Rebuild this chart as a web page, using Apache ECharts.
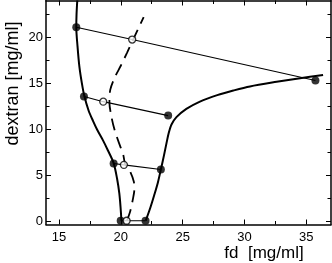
<!DOCTYPE html>
<html>
<head>
<meta charset="utf-8">
<script src="https://cdn.jsdelivr.net/npm/echarts@6/dist/echarts.min.js"></script>
<style>
html,body{margin:0;padding:0;background:#fff;}
#chart{width:332px;height:263px;}
</style>
</head>
<body>
<div id="chart"></div>
<script>
// Axis ranges and ticks
var X_MIN = 13.95, X_MAX = 37.0;
var Y_MIN = -0.38, Y_MAX = 24.0;
var X_MAJOR = [15, 20, 25, 30, 35];
var X_MINOR = [17.5, 22.5, 27.5, 32.5];
var Y_MAJOR = [0, 5, 10, 15, 20];
var Y_MINOR = [2.5, 7.5, 12.5, 17.5, 22.5];

// Binodal (solid) - left and right branches
var binodalLeft = [[16.48,24.0],[16.42,22.5],[16.40,21.1],[16.5,19.0],[16.65,16.8],[16.85,15.0],[17.05,13.6],[17.4,12.0],[17.75,10.9],[18.1,9.9],[18.55,8.8],[18.95,7.7],[19.42,6.3],[19.7,4.6],[19.88,3.0],[19.98,1.5],[20.05,0.05]];
var binodalRight = [[22.02,0.05],[22.4,1.5],[22.7,2.8],[23.0,4.2],[23.24,5.6],[23.5,7.2],[23.7,8.5],[23.88,9.6],[24.1,10.5],[24.5,11.3],[25.3,12.2],[26.4,13.0],[27.8,13.7],[29.1,14.2],[30.45,14.65],[32.6,15.15],[34.5,15.55],[36.36,15.9]];

// Dashed curve
var dashedCurve = [[20.5,0.05],[20.75,1.0],[20.95,2.2],[21.1,3.5],[21.05,4.3],[20.75,5.4],[20.35,6.2],[20.2,7.2],[19.85,8.5],[19.5,9.9],[19.25,11.3],[19.08,12.9],[19.15,14.3],[19.5,15.6],[20.0,16.9],[20.5,18.3],[20.95,19.6],[21.4,20.9],[21.85,22.2]];

// Tie line points: filled left, open middle, filled right
var filledLeft = [[16.40,21.09],[17.02,13.56],[19.42,6.26],[19.99,0.03]];
var openMid = [[20.92,19.75],[18.58,12.99],[20.25,6.11],[20.47,0.03]];
var filledRight = [[35.74,15.30],[23.83,11.47],[23.24,5.61],[22.0,0.03]];

var FONT = 'Liberation Sans, Arial, sans-serif';

function xAxisDef(pos, vals, len, showLine, showLabel, extra) {
  var a = {
    type: 'value', min: X_MIN, max: X_MAX, position: pos,
    axisLine: { show: showLine, onZero: false, lineStyle: { color: '#000', width: 1.5 } },
    axisTick: { show: true, inside: true, length: len, customValues: vals, lineStyle: { color: '#000', width: 1 } },
    axisLabel: { show: showLabel, customValues: vals, color: '#000', fontFamily: FONT, fontSize: 13, margin: 6 },
    splitLine: { show: false }
  };
  if (extra) for (var k in extra) a[k] = extra[k];
  return a;
}
function yAxisDef(pos, vals, len, showLine, showLabel, extra) {
  var a = {
    type: 'value', min: Y_MIN, max: Y_MAX, position: pos,
    axisLine: { show: showLine, onZero: false, lineStyle: { color: '#000', width: 1.5 } },
    axisTick: { show: true, inside: true, length: len, customValues: vals, lineStyle: { color: '#000', width: 1 } },
    axisLabel: { show: showLabel, customValues: vals, color: '#000', fontFamily: FONT, fontSize: 13, margin: 3 },
    splitLine: { show: false }
  };
  if (extra) for (var k in extra) a[k] = extra[k];
  return a;
}

var chart = echarts.init(document.getElementById('chart'), null, { renderer: 'canvas' });

var series = [];
series.push({ type: 'line', data: binodalLeft, smooth: 0.3, showSymbol: false, lineStyle: { color: '#000', width: 2 }, z: 2 });
series.push({ type: 'line', data: binodalRight, smooth: 0.3, showSymbol: false, lineStyle: { color: '#000', width: 2 }, z: 2 });
series.push({ type: 'line', data: dashedCurve, smooth: 0.3, showSymbol: false, lineStyle: { color: '#000', width: 1.8, type: [12, 7] }, z: 2 });
for (var i = 0; i < filledLeft.length; i++) {
  series.push({ type: 'line', data: [filledLeft[i], openMid[i], filledRight[i]], showSymbol: false, lineStyle: { color: '#000', width: 1.1 }, z: 3 });
}
series.push({ type: 'scatter', data: filledLeft.concat(filledRight), symbol: 'circle', symbolSize: 8, itemStyle: { color: '#000' }, z: 5 });
series.push({ type: 'scatter', data: openMid, symbol: 'circle', symbolSize: 7, itemStyle: { color: '#fff', borderColor: '#000', borderWidth: 1.3 }, z: 5 });

chart.setOption({
  animation: false,
  backgroundColor: '#fff',
  grid: { left: 46, top: 0.5, width: 285, height: 224, outerBoundsMode: 'none', containLabel: false },
  xAxis: [
    xAxisDef('bottom', X_MAJOR, 5, true, true, {
      name: 'fd  [mg/ml]', nameLocation: 'middle', nameGap: 20, nameMoveOverlap: false,
      nameTextStyle: { color: '#000', fontFamily: FONT, fontSize: 17, padding: [0, 0, 0, 151] }
    }),
    xAxisDef('bottom', X_MINOR, 3.5, false, false),
    xAxisDef('top', X_MAJOR, 5, true, false),
    xAxisDef('top', X_MINOR, 3.5, false, false)
  ],
  yAxis: [
    yAxisDef('left', Y_MAJOR, 5, true, true, {
      name: 'dextran [mg/ml]', nameLocation: 'middle', nameGap: 24, nameMoveOverlap: false,
      nameTextStyle: { color: '#000', fontFamily: FONT, fontSize: 18, padding: [0, 0, 0, 58] }
    }),
    yAxisDef('left', Y_MINOR, 3.5, false, false),
    yAxisDef('right', Y_MAJOR, 5, true, false),
    yAxisDef('right', Y_MINOR, 3.5, false, false)
  ],
  series: series
});
</script>
</body>
</html>
